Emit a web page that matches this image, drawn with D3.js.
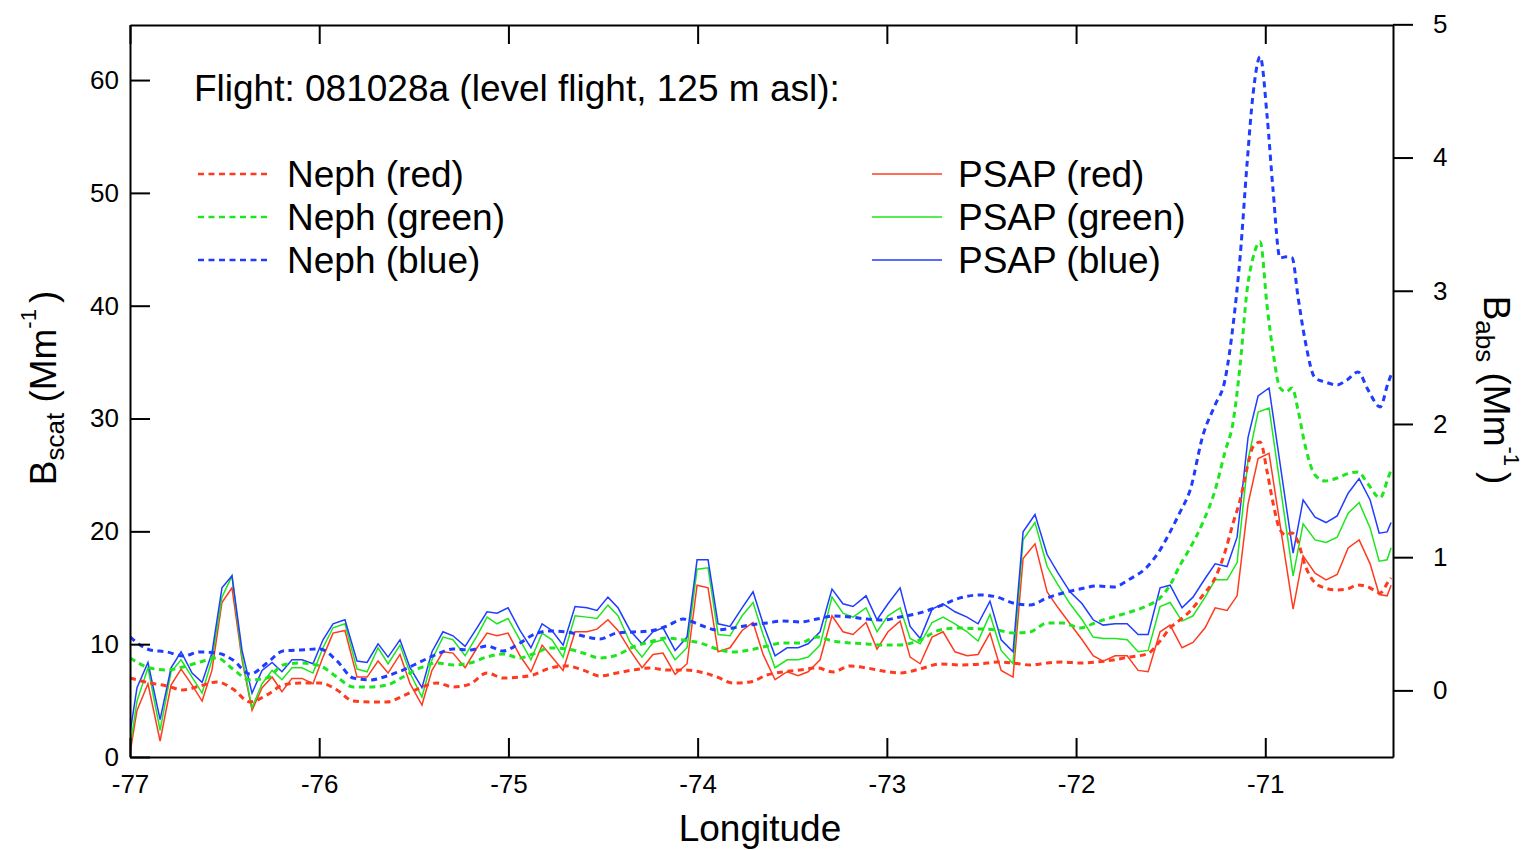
<!DOCTYPE html>
<html>
<head>
<meta charset="utf-8">
<script src="https://cdn.jsdelivr.net/npm/d3@7"></script>
<style>
  body { margin: 0; background: #fff; }
  svg { font-family: "Liberation Sans", Arial, sans-serif; }
  .axis path, .axis line { stroke: #000; stroke-width: 2; }
  .axis text { font-size: 26px; fill: #000; }
</style>
</head>
<body>
<svg id="chart" width="1537" height="850"></svg>
<script>
// PSAP samples (right axis, Babs)
const lonPsap = [
  -77.000,-76.963,-76.905,-76.841,-76.783,-76.730,-76.672,-76.619,-76.567,-76.514,
  -76.461,-76.408,-76.355,-76.302,-76.249,-76.197,-76.144,-76.091,-76.033,-75.980,
  -75.927,-75.864,-75.800,-75.747,-75.689,-75.636,-75.573,-75.520,-75.457,-75.404,
  -75.346,-75.293,-75.229,-75.166,-75.113,-75.060,-75.002,-74.939,-74.881,-74.822,
  -74.770,-74.711,-74.648,-74.585,-74.532,-74.474,-74.421,-74.357,-74.294,-74.236,
  -74.183,-74.119,-74.056,-74.003,-73.945,-73.892,-73.829,-73.765,-73.707,-73.654,
  -73.591,-73.527,-73.469,-73.416,-73.353,-73.290,-73.232,-73.179,-73.110,-73.052,
  -72.994,-72.930,-72.877,-72.824,-72.761,-72.703,-72.640,-72.576,-72.518,-72.455,
  -72.396,-72.333,-72.280,-72.217,-72.153,-72.095,-72.032,-71.968,-71.910,-71.857,
  -71.794,-71.730,-71.672,-71.619,-71.556,-71.503,-71.440,-71.382,-71.318,-71.265,
  -71.202,-71.149,-71.091,-71.038,-70.980,-70.853,-70.800,-70.737,-70.679,-70.620,
  -70.562,-70.504,-70.446,-70.398,-70.356,-70.335
]
const psapBlue = [
  -0.32,0.02,0.21,-0.22,0.17,0.29,0.13,0.06,0.28,0.77,
  0.86,0.30,-0.02,0.15,0.21,0.14,0.23,0.23,0.20,0.38,
  0.50,0.53,0.22,0.21,0.35,0.25,0.38,0.17,0.02,0.29,
  0.44,0.41,0.33,0.47,0.59,0.58,0.62,0.45,0.32,0.50,
  0.45,0.34,0.63,0.62,0.60,0.70,0.62,0.45,0.35,0.44,
  0.47,0.30,0.40,0.98,0.98,0.50,0.48,0.62,0.74,0.50,
  0.26,0.32,0.32,0.35,0.44,0.76,0.65,0.63,0.71,0.53,
  0.65,0.77,0.48,0.39,0.61,0.65,0.59,0.55,0.50,0.67,
  0.38,0.29,1.19,1.32,1.02,0.88,0.74,0.65,0.53,0.49,
  0.50,0.50,0.42,0.42,0.77,0.79,0.62,0.70,0.84,0.95,
  0.93,1.15,1.90,2.21,2.27,1.03,1.43,1.30,1.26,1.31,
  1.48,1.59,1.43,1.18,1.19,1.26
]
const psapGreen = [
  -0.43,-0.08,0.17,-0.30,0.14,0.23,0.10,-0.02,0.23,0.70,
  0.86,0.25,-0.13,0.05,0.15,0.08,0.17,0.17,0.13,0.32,
  0.47,0.50,0.16,0.14,0.32,0.20,0.34,0.13,-0.05,0.23,
  0.40,0.38,0.26,0.41,0.55,0.50,0.54,0.38,0.23,0.43,
  0.38,0.25,0.56,0.55,0.54,0.64,0.56,0.36,0.25,0.36,
  0.38,0.23,0.32,0.91,0.92,0.42,0.41,0.56,0.66,0.42,
  0.17,0.23,0.23,0.25,0.34,0.70,0.58,0.55,0.62,0.44,
  0.56,0.62,0.39,0.35,0.51,0.55,0.50,0.44,0.37,0.57,
  0.30,0.20,1.13,1.26,0.93,0.79,0.65,0.53,0.40,0.39,
  0.39,0.38,0.29,0.30,0.63,0.66,0.52,0.56,0.70,0.83,
  0.83,0.96,1.73,2.09,2.12,0.86,1.25,1.13,1.11,1.15,
  1.33,1.41,1.22,0.97,0.98,1.07
]
const psapRed = [
  -0.47,-0.15,0.05,-0.38,0.04,0.16,0.04,-0.08,0.15,0.66,
  0.77,0.23,-0.15,0.02,0.10,-0.01,0.09,0.09,0.05,0.25,
  0.43,0.45,0.10,0.10,0.22,0.13,0.27,0.05,-0.11,0.15,
  0.29,0.28,0.17,0.32,0.43,0.41,0.43,0.26,0.14,0.34,
  0.25,0.15,0.44,0.44,0.46,0.53,0.45,0.30,0.17,0.27,
  0.28,0.12,0.20,0.79,0.77,0.29,0.32,0.45,0.51,0.27,
  0.08,0.14,0.11,0.14,0.23,0.56,0.44,0.42,0.51,0.31,
  0.44,0.52,0.25,0.20,0.40,0.44,0.29,0.26,0.27,0.43,
  0.15,0.10,0.99,1.10,0.74,0.62,0.50,0.38,0.26,0.22,
  0.26,0.26,0.15,0.14,0.44,0.49,0.32,0.36,0.47,0.62,
  0.60,0.71,1.40,1.74,1.78,0.61,1.01,0.88,0.83,0.87,
  1.07,1.13,0.95,0.72,0.71,0.79
]

// Nephelometer samples (left axis, Bscat)
const lonNeph = [
  -77.000,-76.894,-76.804,-76.720,-76.630,-76.540,-76.456,-76.366,-76.276,-76.191,
  -76.101,-75.996,-75.906,-75.821,-75.732,-75.642,-75.557,-75.467,-75.377,-75.293,
  -75.203,-75.113,-75.029,-74.939,-74.870,-74.780,-74.690,-74.606,-74.516,-74.426,
  -74.341,-74.252,-74.162,-74.077,-73.987,-73.897,-73.813,-73.723,-73.633,-73.549,
  -73.459,-73.369,-73.284,-73.195,-73.105,-73.020,-72.930,-72.825,-72.719,-72.613,
  -72.507,-72.418,-72.333,-72.243,-72.153,-72.069,-71.979,-71.889,-71.804,-71.715,
  -71.625,-71.556,-71.503,-71.450,-71.397,-71.329,-71.265,-71.213,-71.170,-71.133,
  -71.096,-71.065,-71.027,-70.990,-70.959,-70.922,-70.890,-70.858,-70.827,-70.790,
  -70.737,-70.684,-70.620,-70.568,-70.510,-70.457,-70.393,-70.351,-70.335
]
const nephBlue = [
  10.64,9.49,9.31,8.95,9.31,9.22,8.60,7.36,8.33,9.40,
  9.49,9.57,8.51,7.00,6.83,7.18,7.71,8.42,9.13,9.57,
  9.49,9.84,9.40,10.11,10.82,11.17,11.08,10.73,10.46,10.99,
  11.08,11.17,11.61,12.23,11.70,11.26,11.44,11.70,11.88,12.06,
  11.97,12.23,12.50,12.41,12.23,12.15,12.41,12.77,13.39,14.10,
  14.36,14.18,13.65,13.48,14.10,14.54,14.89,15.16,15.07,15.78,
  16.84,18.35,19.95,21.72,23.67,28.55,31.21,33.42,38.30,44.33,
  52.66,58.69,62.06,56.74,50.27,44.24,44.33,44.24,40.78,36.97,
  33.60,33.24,32.98,33.42,34.13,32.54,31.03,33.16,33.87
]
const nephGreen = [
  8.78,7.89,7.71,7.98,8.42,8.78,7.80,6.83,7.00,8.16,
  8.33,8.07,7.09,6.21,6.21,6.38,7.09,7.89,8.33,8.16,
  8.33,8.87,9.13,8.78,9.13,9.66,9.57,9.22,8.78,9.04,
  9.75,10.20,10.55,10.37,10.11,9.57,9.31,9.49,9.84,10.11,
  10.11,10.64,10.28,10.11,10.02,9.93,9.93,10.37,11.26,11.44,
  11.35,11.26,10.99,11.08,11.88,11.88,11.44,11.97,12.41,12.85,
  13.39,14.10,15.25,17.02,18.53,20.83,23.67,27.04,29.70,34.75,
  41.40,44.24,45.66,39.89,35.90,32.71,32.36,32.71,30.76,27.66,
  25.00,24.47,24.73,25.09,25.27,24.20,22.96,24.73,25.44
]
const nephRed = [
  7.00,6.56,6.29,5.94,6.29,6.65,6.03,4.88,5.50,6.38,
  6.56,6.56,5.94,4.96,4.88,4.88,5.41,6.12,6.56,6.21,
  6.47,7.45,7.00,7.09,7.27,7.89,8.07,7.71,7.18,7.45,
  7.71,7.89,7.71,7.71,7.54,7.09,6.56,6.65,7.27,7.54,
  7.71,7.89,7.54,8.07,7.89,7.62,7.45,7.80,8.24,8.16,
  8.24,8.42,8.33,8.16,8.33,8.42,8.33,8.42,8.60,8.87,
  9.13,10.28,11.44,12.15,12.94,14.36,15.87,18.17,20.74,22.78,
  25.62,27.48,27.93,25.27,22.52,20.12,19.68,19.86,19.06,17.02,
  15.43,14.98,14.80,14.89,15.25,15.07,14.54,15.51,15.87
]

const lonTicks = [-77, -76, -75, -74, -73, -72, -71]
const scatTicks = [0, 10, 20, 30, 40, 50, 60]
const absTicks = [0, 1, 2, 3, 4, 5]
const title = 'Flight: 081028a (level flight, 125 m asl):'
const nephLabels = ['Neph (red)', 'Neph (green)', 'Neph (blue)']
const psapLabels = ['PSAP (red)', 'PSAP (green)', 'PSAP (blue)']
const colors = ['#ff3b1f', '#1ee61e', '#1f3cff']

const margin = { left: 130, right: 1393, top: 25, bottom: 757 }
const plain = d => String(d)

const x = d3.scaleLinear().domain([-77, -70.325]).range([margin.left, margin.right])
const yScat = d3.scaleLinear().domain([0, 64.88]).range([margin.bottom, margin.top])
const yAbs = d3.scaleLinear().domain([-0.5, 4.995]).range([margin.bottom, margin.top])

const svg = d3.select('#chart')

svg.append('defs').append('clipPath').attr('id', 'plot')
    .append('rect')
    .attr('x', margin.left).attr('y', margin.top)
    .attr('width', margin.right - margin.left)
    .attr('height', margin.bottom - margin.top)

const plot = svg.append('g').attr('clip-path', 'url(#plot)')

const nephLine = d3.line()
    .x(d => x(d[0]))
    .y(d => yScat(d[1]))
    .curve(d3.curveMonotoneX)

const psapLine = d3.line()
    .x(d => x(d[0]))
    .y(d => yAbs(d[1]))

const nephSeries = [nephRed, nephGreen, nephBlue]
const psapSeries = [psapRed, psapGreen, psapBlue]

psapSeries.forEach((vals, i) => {
    plot.append('path')
        .datum(d3.zip(lonPsap, vals))
        .attr('fill', 'none')
        .attr('stroke', colors[i])
        .attr('stroke-width', 1.5)
        .attr('d', psapLine)
})

nephSeries.forEach((vals, i) => {
    plot.append('path')
        .datum(d3.zip(lonNeph, vals))
        .attr('fill', 'none')
        .attr('stroke', colors[i])
        .attr('stroke-width', 3)
        .attr('stroke-dasharray', '6,4.5')
        .attr('d', nephLine)
})

// Axes: left/bottom/top ticks point inward, right ticks outward
svg.append('g').attr('class', 'axis')
    .attr('transform', `translate(0,${margin.bottom})`)
    .call(d3.axisBottom(x).tickValues(lonTicks).tickFormat(plain)
        .tickSize(-19).tickSizeOuter(0).tickPadding(18))

svg.append('g').attr('class', 'axis')
    .attr('transform', `translate(0,${margin.top})`)
    .call(d3.axisTop(x).tickValues(lonTicks).tickSize(-19).tickSizeOuter(0).tickFormat(''))

svg.append('g').attr('class', 'axis')
    .attr('transform', `translate(${margin.left},0)`)
    .call(d3.axisLeft(yScat).tickValues(scatTicks).tickFormat(plain)
        .tickSize(-20).tickSizeOuter(0).tickPadding(11))

svg.append('g').attr('class', 'axis')
    .attr('transform', `translate(${margin.right},0)`)
    .call(d3.axisRight(yAbs).tickValues(absTicks).tickFormat(plain)
        .tickSize(20).tickSizeOuter(0).tickPadding(20))

// Title and legend
svg.append('text')
    .attr('x', 194).attr('y', 101)
    .attr('font-size', 37)
    .text(title)

nephLabels.forEach((label, i) => {
    const cy = 174 + i * 43
    svg.append('line')
        .attr('x1', 198).attr('x2', 270).attr('y1', cy).attr('y2', cy)
        .attr('stroke', colors[i]).attr('stroke-width', 2.5)
        .attr('stroke-dasharray', '6,4.5')
    svg.append('text')
        .attr('x', 287).attr('y', cy + 12.5)
        .attr('font-size', 37)
        .text(label)
})

psapLabels.forEach((label, i) => {
    const cy = 174 + i * 43
    svg.append('line')
        .attr('x1', 872).attr('x2', 942).attr('y1', cy).attr('y2', cy)
        .attr('stroke', colors[i]).attr('stroke-width', 1.5)
    svg.append('text')
        .attr('x', 958).attr('y', cy + 12.5)
        .attr('font-size', 37)
        .text(label)
})

// Axis titles
svg.append('text')
    .attr('x', 760).attr('y', 841)
    .attr('text-anchor', 'middle')
    .attr('font-size', 37)
    .text('Longitude')

const axisTitle = (g, sub) => {
    g.append('tspan').attr('font-size', 37).text('B')
    g.append('tspan').attr('font-size', 26).attr('dy', 8).text(sub)
    g.append('tspan').attr('font-size', 37).attr('dy', -8).text(' (Mm')
    g.append('tspan').attr('font-size', 22).attr('dy', -20).text('-1')
    g.append('tspan').attr('font-size', 37).attr('dy', 20).attr('dx', 6).text(')')
}

svg.append('text')
    .attr('transform', 'translate(56,388) rotate(-90)')
    .attr('text-anchor', 'middle')
    .call(axisTitle, 'scat')

svg.append('text')
    .attr('transform', 'translate(1484,390) rotate(90)')
    .attr('text-anchor', 'middle')
    .call(axisTitle, 'abs')
</script>
</body>
</html>
